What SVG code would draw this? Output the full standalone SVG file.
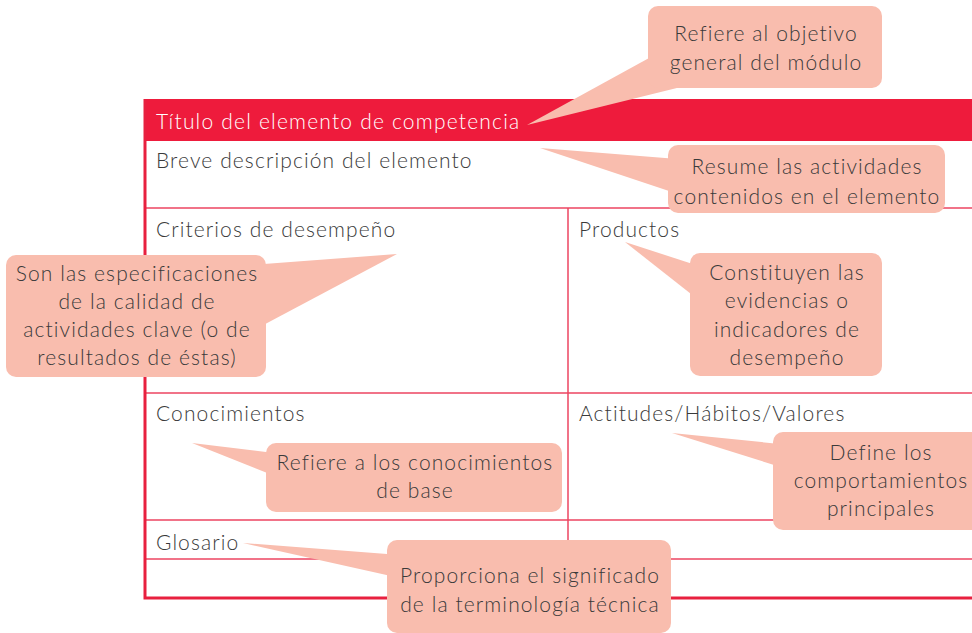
<svg xmlns="http://www.w3.org/2000/svg" width="972" height="633" viewBox="0 0 972 633">
<style>
.grid{stroke:#EC4560;stroke-width:1.5;fill:none}
.border{stroke:#E8203F;stroke-width:3;fill:none}
.lbl{font-family:"Lato","Liberation Sans",sans-serif;font-weight:300;font-size:21px;letter-spacing:1.1px;fill:#3a3a3a}
.hdr{font-family:"Lato","Liberation Sans",sans-serif;font-weight:300;font-size:21px;letter-spacing:1.2px;fill:#ffffff}
.box{fill:#F9BDAE}
.ct{font-family:"Lato","Liberation Sans",sans-serif;font-weight:300;font-size:21px;letter-spacing:1.1px;fill:#3a3a3a;text-anchor:middle}
</style>
<rect width="972" height="633" fill="#ffffff"/>
<g id="table">
<rect x="145" y="99" width="830" height="42" fill="#EE1B3C"/>
<text class="hdr" x="156" y="129">Título del elemento de competencia</text>
<line class="grid" x1="145" y1="208" x2="972" y2="208"/>
<line class="grid" x1="145" y1="393" x2="972" y2="393"/>
<line class="grid" x1="145" y1="520" x2="972" y2="520"/>
<line class="grid" x1="145" y1="559" x2="972" y2="559"/>
<line class="grid" x1="568" y1="208" x2="568" y2="559"/>
<polyline class="border" points="145,99 145,598 972,598"/>
<text class="lbl" x="156" y="168">Breve descripción del elemento</text>
<text class="lbl" x="156" y="237">Criterios de desempeño</text>
<text class="lbl" x="579" y="237">Productos</text>
<text class="lbl" x="156" y="421">Conocimientos</text>
<text class="lbl" x="579" y="421">Actitudes/Hábitos/Valores</text>
<text class="lbl" x="156" y="550">Glosario</text>
</g>
<g id="connectors">
<polygon class="box" points="527,125 660,52 685,86"/>
<polygon class="box" points="540,148 690,160 690,198"/>
<polygon class="box" points="397,254 250,265 250,332"/>
<polygon class="box" points="625,242 705,268 705,305"/>
<polygon class="box" points="192,443 290,455 290,482"/>
<polygon class="box" points="672,433 790,445 790,470"/>
<polygon class="box" points="243,543 400,555 400,578"/>
</g>
<g id="c1">
<rect class="box" x="648" y="6" width="234" height="82" rx="10"/>
<text class="ct" x="766" y="41">Refiere al objetivo</text>
<text class="ct" x="766" y="70">general del módulo</text>
</g>
<g id="c2">
<rect class="box" x="668" y="145" width="277" height="68" rx="10"/>
<text class="ct" x="807" y="174">Resume las actividades</text>
<text class="ct" x="807" y="204">contenidos en el elemento</text>
</g>
<g id="c3">
<rect class="box" x="6" y="255" width="260" height="122" rx="10"/>
<text class="ct" x="137" y="281">Son las especificaciones</text>
<text class="ct" x="137" y="309">de la calidad de</text>
<text class="ct" x="137" y="337">actividades clave (o de</text>
<text class="ct" x="137" y="365">resultados de éstas)</text>
</g>
<g id="c4">
<rect class="box" x="690" y="253" width="192" height="123" rx="10"/>
<text class="ct" x="787" y="280">Constituyen las</text>
<text class="ct" x="787" y="308">evidencias o</text>
<text class="ct" x="787" y="337">indicadores de</text>
<text class="ct" x="787" y="365">desempeño</text>
</g>
<g id="c5">
<rect class="box" x="266" y="443" width="296" height="69" rx="10"/>
<text class="ct" x="415" y="470">Refiere a los conocimientos</text>
<text class="ct" x="415" y="498">de base</text>
</g>
<g id="c6">
<rect class="box" x="773" y="432" width="210" height="98" rx="10"/>
<text class="ct" x="881" y="460">Define los</text>
<text class="ct" x="881" y="488">comportamientos</text>
<text class="ct" x="881" y="516">principales</text>
</g>
<g id="c7">
<rect class="box" x="387" y="540" width="284" height="93" rx="10"/>
<text class="ct" x="530" y="583">Proporciona el significado</text>
<text class="ct" x="530" y="612">de la terminología técnica</text>
</g>
</svg>
